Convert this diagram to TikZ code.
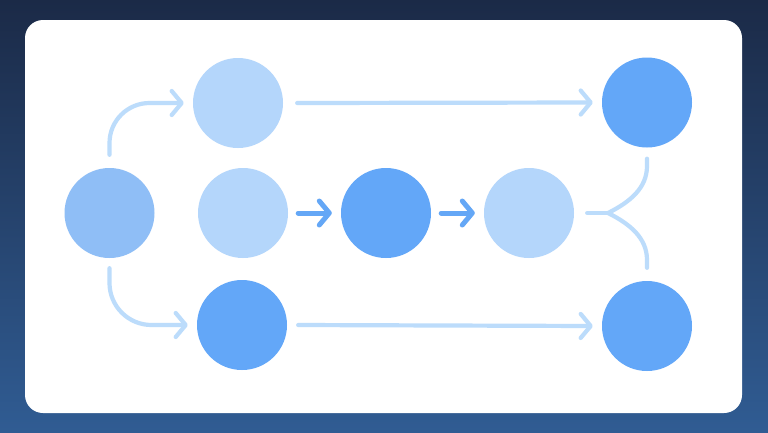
\documentclass[tikz,border=0pt]{standalone}
\usetikzlibrary{arrows.meta}
\definecolor{bgtop}{HTML}{1B2A47}
\definecolor{bgbot}{HTML}{305C93}
\definecolor{cmid}{HTML}{8FBEF6}
\definecolor{clight}{HTML}{B4D6FB}
\definecolor{cdark}{HTML}{63A7F8}
\definecolor{lineL}{HTML}{BCDCFB}
\definecolor{lineD}{HTML}{64A7F6}
\tikzset{
  circ/.style={circle, minimum size=90pt, inner sep=0pt, draw=none},
  lightarrow/.style={draw=lineL, line width=4.2pt, line cap=round, line join=round,
    -{Straight Barb[length=10pt,width=24pt,round]}},
  darkarrow/.style={draw=lineD, line width=5pt, line cap=round, line join=round,
    -{Straight Barb[length=10pt,width=24pt,round]}},
  lightline/.style={draw=lineL, line width=4.2pt, line cap=round, line join=round}
}
\begin{document}
\begin{tikzpicture}[x=1pt,y=-1pt]
\shade[top color=bgtop,bottom color=bgbot] (0,0) rectangle (768,432);
\useasboundingbox (0,0) rectangle (768,432);
\fill[white, rounded corners=18pt] (25,20) rectangle (742,413);

\node[circ, fill=cmid]   (A) at (109.5,213) {};
\node[circ, fill=clight] (B) at (238,103) {};
\node[circ, fill=clight] (C) at (243,213) {};
\node[circ, fill=cdark]  (D) at (386,213) {};
\node[circ, fill=clight] (E) at (529,213) {};
\node[circ, fill=cdark]  (F) at (647,102.5) {};
\node[circ, fill=cdark]  (G) at (242,325) {};
\node[circ, fill=cdark]  (H) at (647,326) {};

\draw[lightarrow, rounded corners=40pt] ([yshift=13pt]A.north) |- ([xshift=-9pt]B.west);
\draw[lightarrow, rounded corners=42pt] ([yshift=-10pt]A.south) |- ([xshift=-9pt]G.west);
\draw[lightarrow] ([xshift=14pt]B.east) -- ([xshift=-9pt]F.west);
\draw[lightarrow] ([xshift=11pt]G.east) -- ([xshift=-9pt]H.west);
\draw[darkarrow] ([xshift=10pt]C.east) -- ([xshift=-9pt]D.west);
\draw[darkarrow] ([xshift=10pt]D.east) -- ([xshift=-9pt]E.west);

\coordinate (J) at (608,213);
\draw[lightline] ([xshift=13pt]E.east) -- (J);
\draw[lightline] (J) .. controls (630,202) and (647,188) .. (647,166) -- ([yshift=-11pt]F.south);
\draw[lightline] (J) .. controls (630,224) and (647,238) .. (647,260) -- ([yshift=13pt]H.north);
\end{tikzpicture}
\end{document}
